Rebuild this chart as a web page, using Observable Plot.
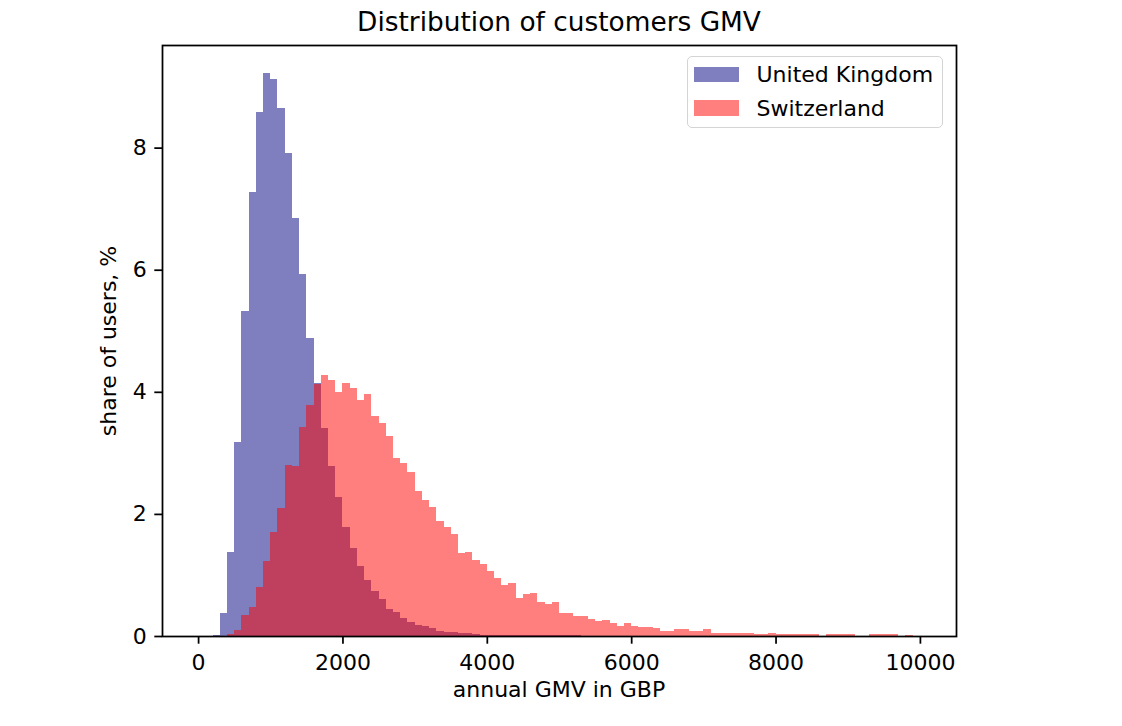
<!DOCTYPE html>
<html>
<head>
<meta charset="utf-8">
<script src="https://cdn.jsdelivr.net/npm/d3@7"></script>
<script src="https://cdn.jsdelivr.net/npm/@observablehq/plot@0.6"></script>
<style>
  html, body { margin: 0; padding: 0; background: #fff; }
  #wrap { position: relative; width: 1122px; height: 726px; font-family: "DejaVu Sans", sans-serif; color: #000; overflow: hidden; }
  #wrap svg { position: absolute; left: 0; top: 0; }
  .title { position: absolute; left: 162px; width: 794px; top: 9px; text-align: center; font-size: 26.4px; line-height: 26.4px; white-space: nowrap; }
  .xlabel { position: absolute; left: 162px; width: 794px; top: 679px; text-align: center; font-size: 22px; line-height: 22px; white-space: nowrap; }
  .ylabel { position: absolute; left: 109px; top: 340.5px; font-size: 22px; line-height: 22px; white-space: nowrap; transform: translate(-50%, -50%) rotate(-90deg); }
  .legend { position: absolute; left: 686.5px; top: 56px; width: 254px; height: 70px; border: 1.6px solid #d4d4d4; border-radius: 5px; background: rgba(255,255,255,0.8); }
  .legend .sw { position: absolute; left: 6px; width: 45px; height: 15.5px; }
  .legend .lb { position: absolute; left: 69px; font-size: 22px; line-height: 22px; white-space: nowrap; }
</style>
</head>
<body>
<div id="wrap"></div>
<script>
// ---- data (share of users, %, per 100 GBP bin) ----
const seriesNames = ["United Kingdom", "Switzerland"];
const seriesColors = ["navy", "red"];
const binStart = 200;   // GBP, left edge of the first bin
const binWidth = 100;   // GBP

const ukShare = [
  0.02, 0.37, 1.37, 3.17, 5.32, 7.28, 8.59, 9.22, 9.13, 8.65,
  7.91, 6.84, 5.93, 4.88, 4.14, 3.40, 2.78, 2.28, 1.79, 1.44,
  1.15, 0.92, 0.74, 0.60, 0.45, 0.39, 0.29, 0.23, 0.18, 0.16,
  0.13, 0.09, 0.07, 0.06, 0.05, 0.05, 0.03, 0.02, 0.02, 0.02,
  0.02, 0.02, 0.02, 0.02, 0.01, 0.01, 0.01, 0.01, 0.01, 0.01, 0.01
];

const chShare = [
  0, 0, 0.03, 0.10, 0.34, 0.47, 0.81, 1.23, 1.70, 2.09,
  2.80, 2.78, 3.43, 3.78, 4.13, 4.28, 4.20, 3.99, 4.14, 4.06,
  3.86, 3.96, 3.60, 3.49, 3.28, 2.91, 2.83, 2.68, 2.38, 2.22,
  2.12, 1.89, 1.78, 1.67, 1.36, 1.38, 1.25, 1.18, 1.07, 0.95,
  0.84, 0.86, 0.63, 0.68, 0.71, 0.55, 0.52, 0.55, 0.37, 0.37,
  0.32, 0.32, 0.28, 0.24, 0.26, 0.21, 0.17, 0.21, 0.17, 0.15,
  0.15, 0.13, 0.08, 0.08, 0.11, 0.11, 0.08, 0.08, 0.11, 0.05,
  0.05, 0.05, 0.05, 0.05, 0.05, 0.03, 0.03, 0.05, 0.03, 0.03,
  0.03, 0.03, 0.03, 0.03, 0, 0.03, 0.03, 0.03, 0.03, 0,
  0, 0.03, 0.03, 0.03, 0.03, 0, 0.02
];

const xTicks = [0, 2000, 4000, 6000, 8000, 10000];
const yTicks = [0, 2, 4, 6, 8];

const titleText = "Distribution of customers GMV";
const xLabelText = "annual GMV in GBP";
const yLabelText = "share of users, %";

// ---- build bin tables ----
function toBins(values) {
  return values
    .map((v, i) => ({x1: binStart + i * binWidth, x2: binStart + (i + 1) * binWidth, share: v}))
    .filter(d => d.share > 0);
}
const ukBins = toBins(ukShare);
const chBins = toBins(chShare);
const yMax = d3.max([...ukShare, ...chShare]) * 1.05;

const chart = Plot.plot({
  width: 1122,
  height: 726,
  marginLeft: 162,
  marginRight: 166,
  marginTop: 45,
  marginBottom: 90,
  style: {fontFamily: "DejaVu Sans, sans-serif", fontSize: "22px", color: "#000", background: "transparent", overflow: "visible"},
  x: {domain: [-500, 10500], label: null},
  y: {domain: [0, yMax], label: null},
  marks: [
    Plot.rectY(ukBins, {x1: "x1", x2: "x2", y: "share", fill: seriesColors[0], fillOpacity: 0.5, shapeRendering: "crispEdges"}),
    Plot.rectY(chBins, {x1: "x1", x2: "x2", y: "share", fill: seriesColors[1], fillOpacity: 0.5, shapeRendering: "crispEdges"}),
    Plot.axisX({ticks: xTicks, tickFormat: d => String(d), tickSize: 7.7, tickPadding: 10, strokeWidth: 1.75, label: null, fontSize: 22}),
    Plot.axisY({ticks: yTicks, tickFormat: d => String(d), tickSize: 7.7, tickPadding: 8, strokeWidth: 1.75, label: null, fontSize: 22}),
    Plot.frame({stroke: "#000", strokeWidth: 1.75})
  ]
});

const wrap = document.getElementById("wrap");
wrap.appendChild(chart);

function addDiv(cls, text) {
  const d = document.createElement("div");
  d.className = cls;
  d.textContent = text;
  wrap.appendChild(d);
  return d;
}
addDiv("title", titleText);
addDiv("xlabel", xLabelText);
addDiv("ylabel", yLabelText);

const legend = document.createElement("div");
legend.className = "legend";
const legendRows = [{sw: 9.5, lb: 7}, {sw: 43, lb: 41}];
seriesNames.forEach((name, i) => {
  const sw = document.createElement("div");
  sw.className = "sw";
  sw.style.top = legendRows[i].sw + "px";
  sw.style.background = seriesColors[i];
  sw.style.opacity = 0.5;
  legend.appendChild(sw);
  const lb = document.createElement("div");
  lb.className = "lb";
  lb.style.top = legendRows[i].lb + "px";
  lb.textContent = name;
  legend.appendChild(lb);
});
wrap.appendChild(legend);
</script>
</body>
</html>
